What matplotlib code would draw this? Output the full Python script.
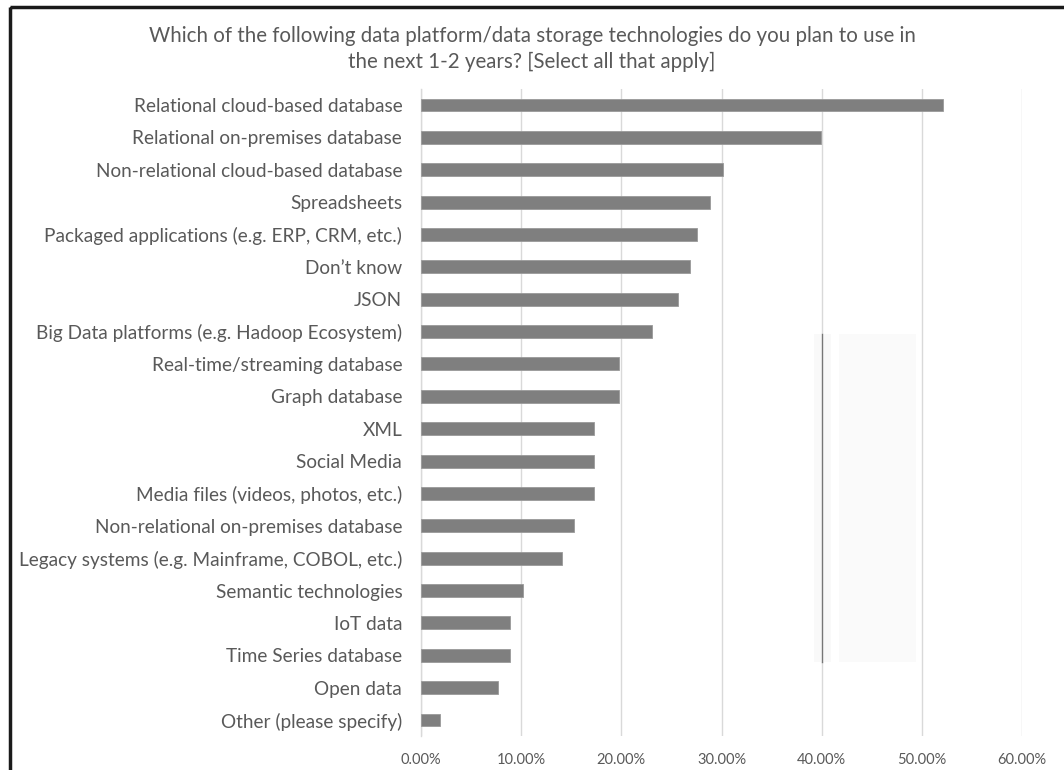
import matplotlib
matplotlib.use("Agg")
import matplotlib.pyplot as plt
from matplotlib.ticker import PercentFormatter, MultipleLocator
from matplotlib.patches import Rectangle
import numpy as np

plt.rcParams['font.family'] = ['Lato', 'DejaVu Sans']

title = ("Which of the following data platform/data storage technologies do you plan to use in\n"
         "the next 1-2 years? [Select all that apply]")

categories = [
    "Relational cloud-based database",
    "Relational on-premises database",
    "Non-relational cloud-based database",
    "Spreadsheets",
    "Packaged applications (e.g. ERP, CRM, etc.)",
    "Don\u2019t know",
    "JSON",
    "Big Data platforms (e.g. Hadoop Ecosystem)",
    "Real-time/streaming database",
    "Graph database",
    "XML",
    "Social Media",
    "Media files (videos, photos, etc.)",
    "Non-relational on-premises database",
    "Legacy systems (e.g. Mainframe, COBOL, etc.)",
    "Semantic technologies",
    "IoT data",
    "Time Series database",
    "Open data",
    "Other (please specify)",
]

shares = [52.1, 39.9, 30.1, 28.9, 27.6, 26.9, 25.7, 23.1, 19.8, 19.8,
          17.3, 17.3, 17.3, 15.3, 14.1, 10.2, 8.9, 8.9, 7.7, 1.9]

W, H = 1064, 770
fig = plt.figure(figsize=(W / 100, H / 100), dpi=100)
fig.patch.set_facecolor("white")

ax_left, ax_right = 421 / W, 1022 / W
ax_top, ax_bottom = 1 - 88.8 / H, 1 - 736.2 / H
ax = fig.add_axes([ax_left, ax_bottom, ax_right - ax_left, ax_top - ax_bottom])

text_color = "#595959"
grid_color = "#d9d9d9"

y = np.arange(len(categories))
ax.barh(y, shares, height=0.4, color="#7f7f7f", edgecolor="#9a9a9a",
        linewidth=0.6, zorder=3)

ax.set_xlim(0, 60)
ax.set_ylim(len(categories) - 0.5, -0.5)
ax.xaxis.set_major_locator(MultipleLocator(10))
ax.xaxis.set_major_formatter(PercentFormatter(xmax=100, decimals=2))
ax.grid(axis="x", color=grid_color, linewidth=1.0, zorder=0)
ax.set_axisbelow(True)

ax.set_yticks(y)
ax.set_yticklabels(categories)
ax.tick_params(axis="y", length=0, pad=13.5, labelsize=13.7, labelcolor=text_color)
ax.tick_params(axis="x", length=0, pad=12, labelsize=10.5, labelcolor=text_color)
for side in ("top", "right", "bottom"):
    ax.spines[side].set_visible(False)
ax.spines["left"].set_color(grid_color)
ax.spines["left"].set_linewidth(1.0)

# stray selection marks over the 40-50% region
ax.axvspan(39.2, 40.9, ymin=0.115, ymax=0.621, color="#f9f9f9", zorder=1, lw=0)
ax.axvspan(41.7, 49.4, ymin=0.115, ymax=0.621, color="#fafafa", zorder=1, lw=0)
ax.axvline(40.05, ymin=0.115, ymax=0.621, color="#777777", linewidth=1.0, zorder=2)

fig.text(532 / W, 1 - 49 / H, title, ha="center", va="center",
         fontsize=14.8, color=text_color, linespacing=1.35)

# outer frame, open to the right and bottom
fig.add_artist(Rectangle((9.5 / W, 1 - 6.5 / H), 2.0, -2.0,
                         transform=fig.transFigure, fill=False,
                         edgecolor="#1a1a1a", linewidth=2.5))

fig.savefig("out.png", dpi=100, facecolor="white")
